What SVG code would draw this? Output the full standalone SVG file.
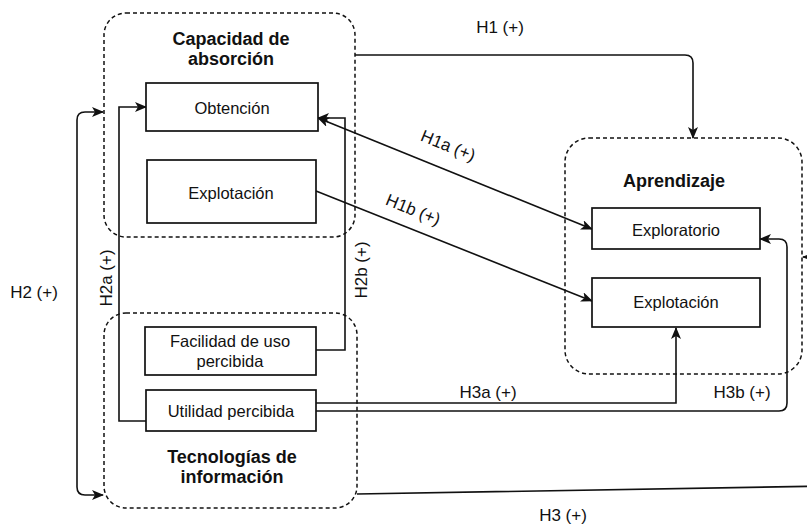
<svg xmlns="http://www.w3.org/2000/svg" width="807" height="525" viewBox="0 0 807 525">
<style>
  .grp { fill: none; stroke: #111; stroke-width: 1.5; stroke-dasharray: 4 3; }
  .box { fill: #fff; stroke: #111; stroke-width: 1.7; }
  .title { font-family: "Liberation Sans", Arial, sans-serif; font-size: 18px; font-weight: bold; fill: #111; text-anchor: middle; }
  .txt { font-family: "Liberation Sans", Arial, sans-serif; font-size: 16.5px; fill: #111; text-anchor: middle; }
  .lbl { font-family: "Liberation Sans", Arial, sans-serif; font-size: 17px; fill: #111; text-anchor: middle; }
  .edge { fill: none; stroke: #111; stroke-width: 1.6; }
</style>
<defs>
  <marker id="arr" viewBox="0 0 12 10" refX="11" refY="5" markerWidth="12" markerHeight="10" markerUnits="userSpaceOnUse" orient="auto-start-reverse">
    <path d="M0,0 L12,5 L0,10 L3,5 Z" fill="#111"/>
  </marker>
</defs>
<rect width="807" height="525" fill="#fff"/>

<g id="capacidad">
  <rect class="grp" x="104" y="13" width="251" height="224" rx="22" ry="22"/>
  <text class="title" x="231" y="45">Capacidad de</text>
  <text class="title" x="231" y="65">absorción</text>
</g>
<g id="tecnologias">
  <rect class="grp" x="104" y="313" width="253" height="195" rx="22" ry="22"/>
  <text class="title" x="232" y="463">Tecnologías de</text>
  <text class="title" x="232" y="483">información</text>
</g>
<g id="aprendizaje">
  <rect class="grp" x="565" y="138" width="237" height="236" rx="24" ry="24"/>
  <text class="title" x="674" y="187">Aprendizaje</text>
</g>

<g id="connectors">
  <path id="h1" class="edge" d="M355,55 H685 Q693,55 693,63 V138" marker-end="url(#arr)"/>
  <path id="h1a" class="edge" d="M318,118 L592,229" marker-start="url(#arr)" marker-end="url(#arr)"/>
  <path id="h1b" class="edge" d="M316,191 L592,301" marker-end="url(#arr)"/>
  <path id="h2" class="edge" d="M103,112 H85 Q77,112 77,120 V487 Q77,495 85,495 H103" marker-start="url(#arr)" marker-end="url(#arr)"/>
  <path id="h2a" class="edge" d="M146,421 H119 V107 H146" marker-end="url(#arr)"/>
  <path id="h2b" class="edge" d="M316,350 H345 V118 H318" marker-end="url(#arr)"/>
  <path id="h3a" class="edge" d="M316,403 H676 V328" marker-end="url(#arr)"/>
  <path id="h3b" class="edge" d="M316,411 H779 Q787,411 787,403 V247 Q787,239 779,239 H760" marker-end="url(#arr)"/>
  <path id="h3" class="edge" d="M357,494 L830,486 V257 H803" marker-end="url(#arr)"/>
</g>

<g id="obtencion">
  <rect class="box" x="146" y="83" width="172" height="48"/>
  <text class="txt" x="232" y="114">Obtención</text>
</g>
<g id="explotacion-cap">
  <rect class="box" x="147" y="160" width="169" height="63"/>
  <text class="txt" x="231" y="199">Explotación</text>
</g>
<g id="facilidad">
  <rect class="box" x="145" y="327" width="171" height="48"/>
  <text class="txt" x="230" y="347">Facilidad de uso</text>
  <text class="txt" x="230" y="367">percibida</text>
</g>
<g id="utilidad">
  <rect class="box" x="146" y="390" width="170" height="41"/>
  <text class="txt" x="231" y="417">Utilidad percibida</text>
</g>
<g id="exploratorio">
  <rect class="box" x="592" y="208" width="168" height="41"/>
  <text class="txt" x="676" y="236">Exploratorio</text>
</g>
<g id="explotacion-apr">
  <rect class="box" x="592" y="278" width="168" height="49"/>
  <text class="txt" x="676" y="308">Explotación</text>
</g>

<g id="labels">
  <text class="lbl" x="500" y="33">H1 (+)</text>
  <text class="lbl" transform="translate(446,151) rotate(22)">H1a (+)</text>
  <text class="lbl" transform="translate(411,215) rotate(22)">H1b (+)</text>
  <text class="lbl" x="34" y="298">H2 (+)</text>
  <text class="lbl" transform="translate(112,278) rotate(-90)">H2a (+)</text>
  <text class="lbl" transform="translate(367,270) rotate(-90)">H2b (+)</text>
  <text class="lbl" x="488" y="398">H3a (+)</text>
  <text class="lbl" x="742" y="398">H3b (+)</text>
  <text class="lbl" x="563" y="521">H3 (+)</text>
</g>
</svg>
